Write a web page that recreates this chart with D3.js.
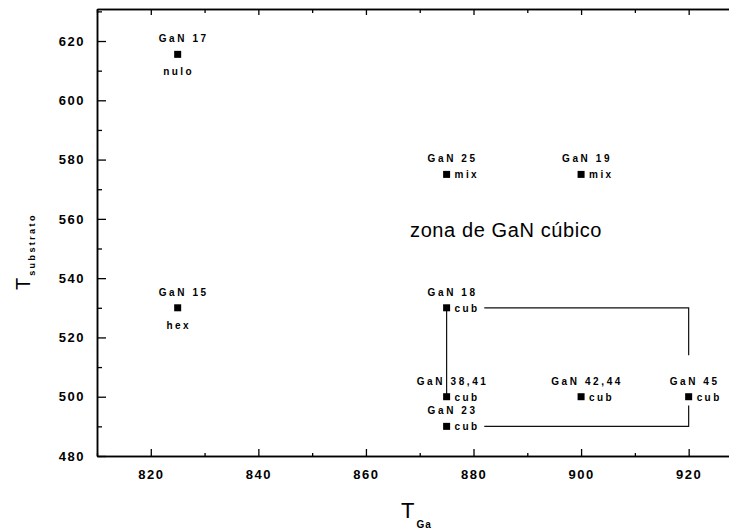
<!DOCTYPE html>
<html>
<head>
<meta charset="utf-8">
<script src="https://cdn.jsdelivr.net/npm/d3@7/dist/d3.min.js"></script>
<style>
  body { margin: 0; background: #fff; }
  svg { display: block; }
  text { font-family: "Liberation Sans", Arial, sans-serif; fill: #000; }
</style>
</head>
<body>
<script>
// samples: name, T_Ga, T_substrato, phase
var names  = ["GaN 17", "GaN 15", "GaN 25", "GaN 19", "GaN 18", "GaN 38,41", "GaN 23", "GaN 42,44", "GaN 45"];
var tGa    = [825, 825, 875, 900, 875, 875, 875, 900, 920];
var tSub   = [615.5, 530, 575, 575, 530, 500, 490, 500, 500];
var phases = ["nulo", "hex", "mix", "mix", "cub", "cub", "cub", "cub", "cub"];

// guide lines (in data units)
var guides = [
    [[875, 530], [875, 500]],
    [[882, 530], [920, 530], [920, 514]],
    [[920, 497], [920, 490], [882, 490]]
];

var xMajor = [820, 840, 860, 880, 900, 920];
var xMinor = [810, 830, 850, 870, 890, 910];
var yMajor = [480, 500, 520, 540, 560, 580, 600, 620];
var yMinor = [490, 510, 530, 550, 570, 590, 610, 630];

var width = 729,
    height = 531;

var svg = d3.select("body").append("svg")
    .attr("width", width)
    .attr("height", height);

var x = d3.scaleLinear().domain([810, 927.5]).range([97, 729]);
var y = d3.scaleLinear().domain([480, 630.8]).range([456, 9]);

// axes
var gx = svg.append("g").attr("transform", "translate(0,456)");
gx.call(d3.axisBottom(x).tickValues(xMajor).tickSize(-7).tickSizeOuter(0).tickPadding(14));
gx.append("g").call(d3.axisBottom(x).tickValues(xMinor).tickSize(-3).tickSizeOuter(0).tickFormat(""));

var gxt = svg.append("g").attr("transform", "translate(0,9)");
gxt.call(d3.axisTop(x).tickValues(xMajor).tickSize(-6).tickSizeOuter(0).tickFormat(""));
gxt.append("g").call(d3.axisTop(x).tickValues(xMinor).tickSize(-4).tickSizeOuter(0).tickFormat(""));

var gy = svg.append("g").attr("transform", "translate(97,0)");
gy.call(d3.axisLeft(y).tickValues(yMajor).tickSize(-9).tickSizeOuter(0).tickPadding(12));
gy.append("g").call(d3.axisLeft(y).tickValues(yMinor).tickSize(-5).tickSizeOuter(0).tickFormat(""));

svg.selectAll(".domain").attr("stroke", "#000").attr("stroke-width", 1.5);
svg.selectAll(".tick line").attr("stroke", "#000").attr("stroke-width", 1.3);
svg.selectAll(".tick text")
    .style("font-family", "'Liberation Sans', Arial, sans-serif")
    .style("font-size", "13px")
    .style("font-weight", "bold")
    .style("letter-spacing", "1.5px")
    .attr("fill", "#000");

// axis titles
var xt = svg.append("text")
    .attr("x", 401)
    .attr("y", 518)
    .style("font-size", "22px");
xt.append("tspan").text("T");
xt.append("tspan")
    .attr("dy", 10)
    .attr("dx", 2)
    .style("font-size", "10px")
    .style("font-weight", "bold")
    .style("letter-spacing", "1px")
    .text("Ga");

var yt = svg.append("text")
    .attr("transform", "translate(30,290) rotate(-90)")
    .style("font-size", "20px");
yt.append("tspan").text("T");
yt.append("tspan")
    .attr("dy", 5)
    .attr("dx", 2)
    .style("font-size", "9px")
    .style("font-weight", "bold")
    .style("letter-spacing", "2.4px")
    .text("substrato");

// guide lines
var line = d3.line()
    .x(function(d) { return x(d[0]); })
    .y(function(d) { return y(d[1]); });

svg.selectAll(".guide")
    .data(guides)
    .enter().append("path")
    .attr("class", "guide")
    .attr("d", line)
    .attr("fill", "none")
    .attr("stroke", "#111")
    .attr("stroke-width", 1.2);

// points
var pts = names.map(function(n, i) {
    return { name: n, x: tGa[i], y: tSub[i], phase: phases[i] };
});

var g = svg.selectAll(".pt")
    .data(pts)
    .enter().append("g")
    .attr("class", "pt")
    .attr("transform", function(d) { return "translate(" + x(d.x) + "," + y(d.y) + ")"; });

g.append("rect")
    .attr("x", -3.5)
    .attr("y", -3.5)
    .attr("width", 7)
    .attr("height", 7)
    .attr("fill", "#000");

g.append("text")
    .attr("x", 6)
    .attr("y", -12)
    .attr("text-anchor", "middle")
    .style("font-size", "10px")
    .style("font-weight", "bold")
    .style("letter-spacing", "2.6px")
    .text(function(d) { return d.name; });

g.append("text")
    .attr("x", function(d) { return (d.phase == "cub" || d.phase == "mix") ? 8 : 1; })
    .attr("y", function(d) { return (d.phase == "cub" || d.phase == "mix") ? 4 : 21; })
    .attr("text-anchor", function(d) { return (d.phase == "cub" || d.phase == "mix") ? "start" : "middle"; })
    .style("font-size", "10px")
    .style("font-weight", "bold")
    .style("letter-spacing", "2.4px")
    .text(function(d) { return d.phase; });

// region note
svg.append("text")
    .attr("x", x(868.2))
    .attr("y", y(554))
    .style("font-size", "20px")
    .style("letter-spacing", "0.6px")
    .text("zona de GaN cúbico");
</script>
</body>
</html>
